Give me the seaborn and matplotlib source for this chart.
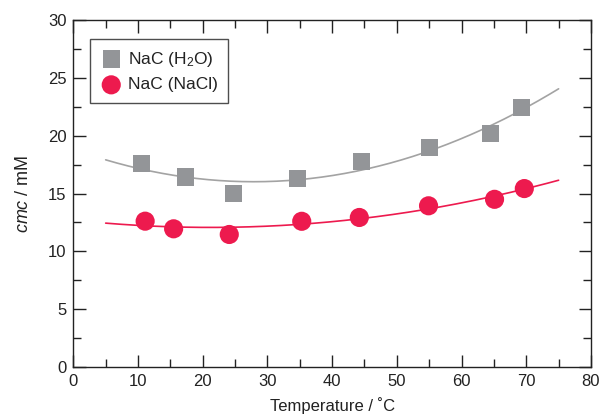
import numpy as np
import pandas as pd
import seaborn as sns
import matplotlib.pyplot as plt
from matplotlib.ticker import MultipleLocator

# NaC in water
temp_h2o = [10.5, 17.3, 24.8, 34.6, 44.6, 55.0, 64.5, 69.3]
cmc_h2o = [17.56, 16.43, 14.97, 16.26, 17.8, 18.94, 20.17, 22.47]

# NaC in NaCl
temp_nacl = [11.1, 15.5, 24.1, 35.3, 44.2, 54.9, 65.1, 69.7]
cmc_nacl = [12.61, 11.95, 11.46, 12.6, 12.93, 13.94, 14.5, 15.43]

gray = '#939598'
red = '#ED1A4E'

sns.set_style('ticks')
plt.rcParams['font.family'] = ['Liberation Sans', 'DejaVu Sans']
plt.rcParams['mathtext.fontset'] = 'custom'
plt.rcParams['mathtext.rm'] = 'Liberation Sans'
plt.rcParams['mathtext.it'] = 'Liberation Sans:italic'

fig = plt.figure(figsize=(6.04, 4.18), dpi=100)
ax = fig.add_axes([0.1214, 0.122, 0.857, 0.830])

# fitted curves through the data
tt = np.linspace(5, 75, 200)
fit_h2o = np.polyval(np.polyfit(temp_h2o, cmc_h2o, 2), tt)
fit_nacl = np.polyval(np.polyfit(temp_nacl, cmc_nacl, 2), tt)
sns.lineplot(x=tt, y=fit_h2o, color='#a3a3a3', lw=1.2, ax=ax)
sns.lineplot(x=tt, y=fit_nacl, color=red, lw=1.2, ax=ax)

h2o = pd.DataFrame({'T': temp_h2o, 'cmc': cmc_h2o})
nacl = pd.DataFrame({'T': temp_nacl, 'cmc': cmc_nacl})
sns.scatterplot(data=h2o, x='T', y='cmc', marker='s', s=150, color=gray,
                edgecolor='none', ax=ax, label='NaC (H$_2$O)', zorder=3)
sns.scatterplot(data=nacl, x='T', y='cmc', marker='o', s=190, color=red,
                edgecolor='none', ax=ax, label='NaC (NaCl)', zorder=3)

ax.set_xlim(0, 80)
ax.set_ylim(0, 30)
ax.xaxis.set_major_locator(MultipleLocator(10))
ax.xaxis.set_minor_locator(MultipleLocator(5))
ax.yaxis.set_major_locator(MultipleLocator(5))
ax.yaxis.set_minor_locator(MultipleLocator(2.5))
ax.tick_params(which='both', direction='in', top=True, right=True,
               labelsize=12, width=1, color='#222222', labelcolor='#222222')
ax.tick_params(which='major', length=9, pad=5)
ax.tick_params(which='minor', length=6)
for s in ax.spines.values():
    s.set_linewidth(1)
    s.set_color('#222222')

ax.set_xlabel('Temperature / ˚C', fontsize=12, labelpad=6, color='#222222')
ax.set_ylabel('$\\mathit{cmc}$ / mM', fontsize=13, labelpad=11, color='#222222')

leg = ax.legend(loc='upper left', bbox_to_anchor=(0.033, 0.945), fontsize=12.5,
                frameon=True, fancybox=False, edgecolor='#222222',
                borderaxespad=0, handletextpad=0.35, borderpad=0.6,
                labelspacing=0.5, handlelength=1.2, markerscale=1.0)
leg.get_frame().set_linewidth(1)
for t in leg.get_texts():
    t.set_color('#222222')

fig.savefig('out.png', dpi=100)
